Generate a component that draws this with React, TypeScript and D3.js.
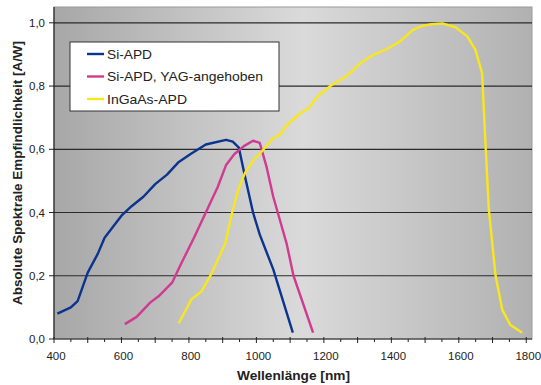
import { useEffect, useRef } from 'react';
import * as d3 from 'd3';

type Pt = [number, number];

const siApd: Pt[] = [
  [410, 0.08], [450, 0.1], [470, 0.12], [500, 0.21], [530, 0.27], [550, 0.32],
  [600, 0.39], [630, 0.42], [665, 0.45], [700, 0.49], [735, 0.52], [770, 0.56],
  [805, 0.585], [850, 0.615], [910, 0.63], [930, 0.624], [948, 0.605], [966, 0.515],
  [990, 0.4], [1010, 0.33], [1050, 0.22], [1108, 0.02],
];

const siApdYag: Pt[] = [
  [610, 0.047], [645, 0.07], [685, 0.115], [710, 0.135], [750, 0.178], [780, 0.245],
  [815, 0.32], [850, 0.4], [885, 0.48], [910, 0.55], [935, 0.585], [963, 0.61],
  [990, 0.627], [1010, 0.62], [1030, 0.545], [1050, 0.45], [1090, 0.3], [1110, 0.2],
  [1168, 0.02],
];

const inGaAsApd: Pt[] = [
  [770, 0.05], [808, 0.126], [837, 0.15], [866, 0.205], [908, 0.303], [928, 0.4],
  [947, 0.475], [967, 0.527], [992, 0.567], [1016, 0.593], [1046, 0.632], [1070, 0.647],
  [1090, 0.676], [1130, 0.714], [1155, 0.73], [1179, 0.765], [1219, 0.8], [1268, 0.832],
  [1308, 0.872], [1347, 0.899], [1387, 0.917], [1427, 0.942], [1463, 0.977], [1490, 0.99],
  [1520, 0.996], [1551, 0.998], [1590, 0.986], [1625, 0.957], [1649, 0.915], [1669, 0.841],
  [1679, 0.62], [1689, 0.41], [1709, 0.2], [1729, 0.092], [1753, 0.044], [1788, 0.02],
];

const seriesNames = ['Si-APD', 'Si-APD, YAG-angehoben', 'InGaAs-APD'];
const seriesColors = ['#0a348f', '#d03a90', '#f8e71c'];
// widths of legend labels as measured on the original (text looks slightly wide)
const legendWidths = [45, 156, 80];
const yTicks = [0, 0.2, 0.4, 0.6, 0.8, 1.0];
const xLabelTicks = [400, 600, 800, 1000, 1200, 1400, 1600, 1800];

const width = 541;
const height = 385;
const margin = { top: 7, right: 9, bottom: 46, left: 54 };
const font = '"Liberation Sans", Arial, sans-serif';

export default function App() {
  const svgRef = useRef<SVGSVGElement>(null);

  useEffect(() => {
    if (!svgRef.current) return;
    const svg = d3.select(svgRef.current);
    svg.selectAll('*').remove();

    const innerW = width - margin.left - margin.right;
    const innerH = height - margin.top - margin.bottom;

    const x = d3.scaleLinear().domain([400, 1817]).range([0, innerW]);
    const y = d3.scaleLinear().domain([0, 1.05]).range([innerH, 0]);

    const defs = svg.append('defs');
    const grad = defs.append('linearGradient')
      .attr('id', 'bg')
      .attr('x1', '0%').attr('x2', '100%')
      .attr('y1', '0%').attr('y2', '0%');
    grad.append('stop').attr('offset', '0%').attr('stop-color', '#a7a7a7');
    grad.append('stop').attr('offset', '52%').attr('stop-color', '#dadada');
    grad.append('stop').attr('offset', '100%').attr('stop-color', '#b1b1b1');

    const g = svg.append('g')
      .attr('transform', `translate(${margin.left},${margin.top})`);

    // plot area
    g.append('rect')
      .attr('width', innerW)
      .attr('height', innerH)
      .attr('fill', 'url(#bg)')
      .attr('stroke', '#9a9a9a')
      .attr('stroke-width', 1);

    // gridlines
    g.selectAll('.grid')
      .data(yTicks.filter(d => d > 0))
      .join('line')
      .attr('x1', 0)
      .attr('x2', innerW)
      .attr('y1', d => y(d))
      .attr('y2', d => y(d))
      .attr('stroke', '#2a2a2a')
      .attr('stroke-width', 1.2);

    // axes lines
    g.append('line')
      .attr('x1', 0).attr('x2', 0)
      .attr('y1', 0).attr('y2', innerH)
      .attr('stroke', '#222').attr('stroke-width', 1.2);
    g.append('line')
      .attr('x1', 0).attr('x2', innerW)
      .attr('y1', innerH).attr('y2', innerH)
      .attr('stroke', '#222').attr('stroke-width', 1.2);

    // y ticks
    g.selectAll('.ytick')
      .data(yTicks)
      .join('line')
      .attr('x1', -5).attr('x2', 0)
      .attr('y1', d => y(d)).attr('y2', d => y(d))
      .attr('stroke', '#222');
    g.selectAll('.ylabel')
      .data(yTicks)
      .join('text')
      .attr('x', -9)
      .attr('y', d => y(d))
      .attr('dy', '0.35em')
      .attr('text-anchor', 'end')
      .attr('font-family', font)
      .attr('font-size', 11.5)
      .attr('fill', '#222')
      .text(d => d3.format('.1f')(d).replace('.', ','));

    // x ticks: major every 100, minor every 50
    const majors = d3.range(400, 1801, 100);
    const minors = d3.range(450, 1800, 100);
    g.selectAll('.xmaj')
      .data(majors)
      .join('line')
      .attr('x1', d => x(d)).attr('x2', d => x(d))
      .attr('y1', innerH - 2).attr('y2', innerH + 4)
      .attr('stroke', '#222');
    g.selectAll('.xmin')
      .data(minors)
      .join('line')
      .attr('x1', d => x(d)).attr('x2', d => x(d))
      .attr('y1', innerH).attr('y2', innerH + 3)
      .attr('stroke', '#222');
    g.selectAll('.xlabel')
      .data(xLabelTicks)
      .join('text')
      .attr('x', d => x(d) + 2)
      .attr('y', innerH + 21)
      .attr('text-anchor', 'middle')
      .attr('font-family', font)
      .attr('font-size', 11.5)
      .attr('fill', '#222')
      .text(d => String(d));

    // lines
    const line = d3.line<Pt>()
      .x(d => x(d[0]))
      .y(d => y(d[1]));

    [siApd, siApdYag, inGaAsApd].forEach((data, i) => {
      g.append('path')
        .datum(data)
        .attr('d', line)
        .attr('fill', 'none')
        .attr('stroke', seriesColors[i])
        .attr('stroke-width', 2.4)
        .attr('stroke-linejoin', 'round');
    });

    // legend
    const legend = svg.append('g').attr('transform', 'translate(70,42)');
    legend.append('rect')
      .attr('width', 209)
      .attr('height', 69)
      .attr('fill', '#ffffff')
      .attr('stroke', '#333')
      .attr('stroke-width', 1);
    seriesNames.forEach((name, i) => {
      const ly = 12 + i * 22.5;
      legend.append('line')
        .attr('x1', 17).attr('x2', 34)
        .attr('y1', ly).attr('y2', ly)
        .attr('stroke', seriesColors[i])
        .attr('stroke-width', 2.4);
      legend.append('text')
        .attr('x', 37)
        .attr('y', ly)
        .attr('dy', '0.36em')
        .attr('font-family', font)
        .attr('font-size', 13)
        .attr('fill', '#222')
        .attr('textLength', legendWidths[i])
        .attr('lengthAdjust', 'spacingAndGlyphs')
        .text(name);
    });

    // axis titles
    svg.append('text')
      .attr('x', 293.5)
      .attr('y', 380)
      .attr('text-anchor', 'middle')
      .attr('font-family', font)
      .attr('font-size', 13)
      .attr('font-weight', 'bold')
      .attr('fill', '#222')
      .attr('textLength', 113)
      .attr('lengthAdjust', 'spacingAndGlyphs')
      .text('Wellenlänge [nm]');

    svg.append('text')
      .attr('transform', `translate(22,${margin.top + innerH / 2}) rotate(-90)`)
      .attr('text-anchor', 'middle')
      .attr('font-family', font)
      .attr('font-size', 13)
      .attr('font-weight', 'bold')
      .attr('fill', '#222')
      .attr('textLength', 264)
      .attr('lengthAdjust', 'spacingAndGlyphs')
      .text('Absolute Spektrale Empfindlichkeit [A/W]');
  }, []);

  return (
    <svg
      ref={svgRef}
      width={width}
      height={height}
      style={{ position: 'absolute', left: 0, top: 0, background: '#fff' }}
    />
  );
}
